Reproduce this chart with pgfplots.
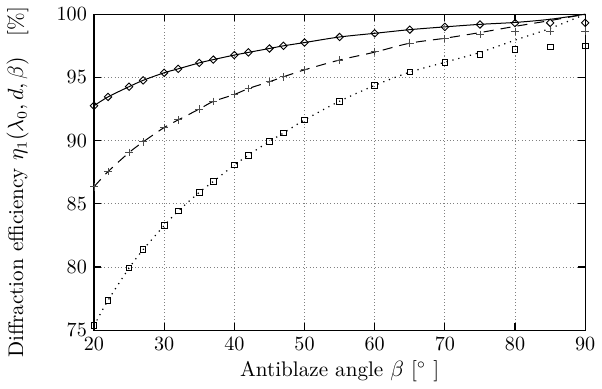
\documentclass[border=0pt]{standalone}
\usepackage{pgfplots}
\pgfplotsset{compat=1.18}
\begin{document}
\begin{tikzpicture}
\begin{axis}[
  scale only axis,
  width=244pt, height=157pt,
  xmin=20, xmax=90, ymin=75, ymax=100,
  xtick={20,30,...,90}, ytick={75,80,...,100},
  tick align=inside,
  major tick length=3.5pt,
  tick style={black, line width=0.6pt},
  axis line style={line width=0.7pt},
  grid=major,
  major grid style={gray, dash pattern=on 0.5pt off 1.2pt, line width=0.45pt},
  label style={font=\fontsize{10.5}{12}\selectfont},
  xlabel={Antiblaze angle $\beta$ [$^\circ$ ]},
  ylabel={Diffraction efficiency $\eta_1(\lambda_0,d,\beta)$\quad[\%]},
  xlabel style={yshift=2pt},
  ylabel style={yshift=7pt, xshift=-5pt},
  clip=false,
]
% lines
\addplot[black, line width=0.5pt, smooth, no marks] coordinates {
(20,92.76)(22,93.46)(25,94.27)(27,94.77)(30,95.37)(32,95.68)(35,96.15)(37,96.41)(40,96.77)(42,96.98)(45,97.29)(47,97.5)(50,97.76)(55,98.2)(60,98.49)(65,98.78)(70,99.0)(75,99.2)(80,99.35)(85,99.6)(90,100)};
\addplot[black, line width=0.5pt, dash pattern=on 5pt off 3.5pt, smooth, no marks] coordinates {
(20,86.35)(22,87.55)(25,89.06)(27,89.9)(30,91.04)(32,91.64)(35,92.5)(37,93.1)(40,93.65)(42,94.12)(45,94.66)(47,95.05)(50,95.6)(55,96.38)(60,97.0)(65,97.71)(70,98.1)(75,98.55)(80,99.04)(85,99.5)(90,100)};
\addplot[black, line width=0.6pt, dash pattern=on 0.6pt off 2.4pt, smooth, no marks] coordinates {
(20,75.36)(22,77.37)(25,79.92)(27,81.38)(30,83.28)(32,84.43)(35,85.91)(37,86.77)(40,88.07)(42,88.85)(45,89.95)(47,90.6)(50,91.64)(55,93.12)(60,94.37)(65,95.42)(70,96.2)(75,96.98)(80,97.95)(85,98.88)(90,100)};
% markers
\addplot[black, only marks, mark=square, mark size=1.3pt, mark options={rotate=45, line width=0.45pt}] coordinates {
(20,92.76)(22,93.46)(25,94.27)(27,94.77)(30,95.37)(32,95.68)(35,96.15)(37,96.41)(40,96.77)(42,96.98)(45,97.29)(47,97.5)(50,97.76)(55,98.2)(60,98.49)(65,98.78)(70,99.0)(75,99.19)(80,99.3)(85,99.32)(90,99.32)};
\addplot[black!70, only marks, mark=+, mark size=1.9pt, mark options={line width=0.45pt}] coordinates {
(20,86.35)(22,87.55)(25,89.06)(27,89.9)(30,91.04)(32,91.64)(35,92.5)(37,93.1)(40,93.65)(42,94.12)(45,94.66)(47,95.05)(50,95.6)(55,96.38)(60,97.06)(65,97.71)(70,98.07)(75,98.41)(80,98.62)(85,98.67)(90,98.67)};
\addplot[black, only marks, mark=square, mark size=1.4pt, mark options={line width=0.45pt}] coordinates {
(20,75.36)(22,77.37)(25,79.92)(27,81.38)(30,83.28)(32,84.43)(35,85.91)(37,86.77)(40,88.07)(42,88.85)(45,89.95)(47,90.6)(50,91.64)(55,93.12)(60,94.37)(65,95.42)(70,96.2)(75,96.8)(80,97.19)(85,97.42)(90,97.5)};
\end{axis}
\end{tikzpicture}
\end{document}
